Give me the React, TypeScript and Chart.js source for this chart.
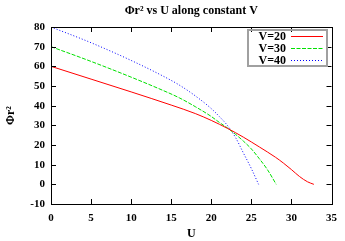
import React, { useEffect, useRef } from "react";
import { Chart, registerables } from "chart.js";

Chart.register(...registerables);

const seriesLabels = ["V=20", "V=30", "V=40"];
const seriesColors = ["#ff0000", "#00e000", "#0000ff"];
const seriesDashes: number[][] = [[], [4, 1.5], [1, 2]];

const uV20 = [0, 5, 10, 15, 18, 20, 22, 24, 26, 28, 29, 30, 31, 32, 32.8];
const phiV20 = [60, 53.5, 47, 40.3, 36, 32.5, 28.5, 24, 19, 13.8, 10.8, 7.5, 4, 1.3, 0];

const uV30 = [0, 5, 10, 14, 16, 18, 20, 21, 22, 23, 24, 25, 26, 27, 28.1];
const phiV30 = [70, 62.5, 54.5, 47.7, 44, 39.5, 34.5, 31.5, 28.7, 25.5, 22, 18, 13, 7.5, 0];

const uV40 = [0, 5, 10, 14, 16, 18, 20, 21, 22, 23, 24, 25, 25.9];
const phiV40 = [80, 72, 63, 55, 50.5, 45, 38.5, 34.5, 30, 24, 16, 8, 0];

const xTicks = [0, 5, 10, 15, 20, 25, 30, 35];
const yTicks = [-10, 0, 10, 20, 30, 40, 50, 60, 70, 80];

const titleText = "Φr² vs U along constant V";
const xTitle = "U";
const yTitle = "Φr²";

const FONT = "'Liberation Serif', 'DejaVu Serif', serif";

function toPoints(us: number[], vs: number[]) {
  return us.map((u, i) => ({ x: u, y: vs[i] }));
}

const framePlugin = {
  id: "frame",
  afterDraw(chart: any) {
    const { ctx, chartArea } = chart;
    const { left, right, top, bottom } = chartArea;
    const xs = chart.scales.x;
    const ys = chart.scales.y;
    ctx.save();
    ctx.strokeStyle = "#000";
    ctx.lineWidth = 1;
    ctx.beginPath();
    xTicks.forEach((t) => {
      const px = Math.round(xs.getPixelForValue(t)) + 0.5;
      ctx.moveTo(px, bottom);
      ctx.lineTo(px, bottom - 5);
      ctx.moveTo(px, top);
      ctx.lineTo(px, top + 5);
    });
    yTicks.forEach((t) => {
      const py = Math.round(ys.getPixelForValue(t)) + 0.5;
      ctx.moveTo(left, py);
      ctx.lineTo(left + 5, py);
      ctx.moveTo(right, py);
      ctx.lineTo(right - 5, py);
    });
    ctx.stroke();
    ctx.strokeStyle = "#000";
    ctx.strokeRect(Math.round(left) + 0.5, Math.round(top) + 0.5, Math.round(right - left), Math.round(bottom - top));

    ctx.fillStyle = "#000";
    ctx.font = `bold 12px ${FONT}`;
    ctx.textAlign = "center";
    ctx.textBaseline = "middle";
    ctx.fillText(titleText, (left + right) / 2, 11);

    const bx = 248, by = 30, bw = 79, bh = 36;
    ctx.strokeStyle = "#a0a0a0";
    ctx.lineWidth = 2;
    ctx.strokeRect(bx, by, bw, bh);
    ctx.font = `bold 12px ${FONT}`;
    ctx.textAlign = "right";
    chart.data.datasets.forEach((ds: any, i: number) => {
      const yy = 36 + i * 12;
      ctx.fillStyle = "#000";
      ctx.fillText(ds.label, 286, yy + 0.5);
      ctx.strokeStyle = ds.borderColor;
      ctx.lineWidth = 1;
      ctx.setLineDash(ds.borderDash || []);
      ctx.beginPath();
      ctx.moveTo(291, Math.round(yy) + 0.5);
      ctx.lineTo(323, Math.round(yy) + 0.5);
      ctx.stroke();
      ctx.setLineDash([]);
    });
    ctx.restore();
  },
};

export default function App() {
  const ref = useRef<HTMLCanvasElement>(null);
  useEffect(() => {
    document.body.style.margin = "0";
    const canvas = ref.current!;
    const us = [uV20, uV30, uV40];
    const vs = [phiV20, phiV30, phiV40];
    const chart = new Chart(canvas, {
      type: "scatter",
      data: {
        datasets: seriesLabels.map((label, i) => ({
          label,
          data: toPoints(us[i], vs[i]),
          showLine: true,
          borderColor: seriesColors[i],
          backgroundColor: seriesColors[i],
          borderWidth: 1,
          borderDash: seriesDashes[i],
          pointRadius: 0,
          cubicInterpolationMode: "monotone",
        })),
      },
      options: {
        animation: false,
        responsive: false,
        maintainAspectRatio: false,
        layout: { padding: { top: 27, right: 9, left: 0, bottom: 0 } },
        plugins: { legend: { display: false }, title: { display: false }, tooltip: { enabled: false } },
        scales: {
          x: {
            type: "linear",
            min: 0,
            max: 35,
            grid: { display: false, drawTicks: false },
            border: { display: false },
            afterBuildTicks: (s: any) => {
              s.ticks = xTicks.map((v) => ({ value: v }));
            },
            afterFit: (s: any) => {
              s.height = 37;
            },
            ticks: { padding: 8, color: "#000", font: { family: FONT, size: 11, weight: "bold" }, maxRotation: 0 },
            title: { display: true, text: xTitle, color: "#000", font: { family: FONT, size: 12, weight: "bold" }, padding: { top: 2, bottom: 0 } },
          },
          y: {
            type: "linear",
            min: -10,
            max: 80,
            grid: { display: false, drawTicks: false },
            border: { display: false },
            afterBuildTicks: (s: any) => {
              s.ticks = yTicks.map((v) => ({ value: v }));
            },
            afterFit: (s: any) => {
              s.width = 51;
            },
            ticks: { padding: 6, color: "#000", font: { family: FONT, size: 11, weight: "bold" } },
            title: { display: true, text: yTitle, color: "#000", font: { family: FONT, size: 12, weight: "bold" }, padding: { top: 4, bottom: 6 } },
          },
        },
      } as any,
      plugins: [framePlugin],
    });
    return () => chart.destroy();
  }, []);
  return <canvas ref={ref} width={345} height={241} style={{ display: "block" }} />;
}
